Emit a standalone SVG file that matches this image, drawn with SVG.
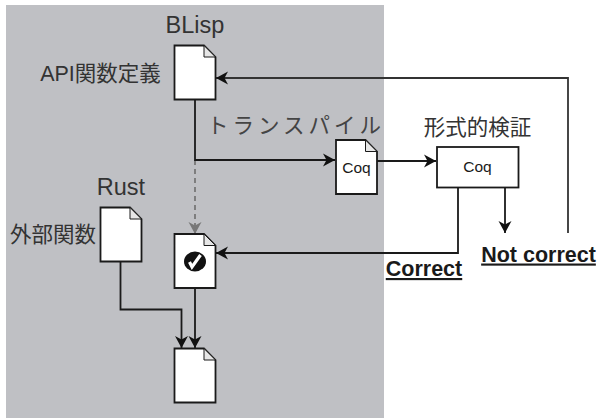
<svg xmlns="http://www.w3.org/2000/svg" width="598" height="418" viewBox="0 0 598 418">
<style>
text{font-family:"Liberation Sans","Noto Sans CJK JP",sans-serif;fill:#333}
.t{font-size:23.500px;text-anchor:middle}
.j{font-size:21.500px;text-anchor:middle}
.b{font-size:21.500px;font-weight:bold;text-decoration:underline;fill:#1a1a1a;text-anchor:middle}
.s{font-size:15.500px;text-anchor:middle;fill:#1a1a1a}
.d{fill:#fff;stroke:#1a1a1a;stroke-width:1.8}
.f{fill:#e6e6e6;stroke:#1a1a1a;stroke-width:1}
.c{fill:none;stroke:#1a1a1a;stroke-width:1.8}
</style>
<defs>
<marker id="a" markerUnits="userSpaceOnUse" markerWidth="13" markerHeight="14" refX="12" refY="7" orient="auto"><path d="M0 0.500L12 7L0 13.500L3.500 7Z" fill="#111"/></marker>
<marker id="g" markerUnits="userSpaceOnUse" markerWidth="13" markerHeight="14" refX="12" refY="7" orient="auto"><path d="M0 0.500L12 7L0 13.500L3.500 7Z" fill="#777"/></marker>
<g id="doc"><path class="d" d="M0 0H29.500L41 11.500V54H0Z"/><path class="f" d="M29.500 0V11.500H41Z"/></g>
</defs>
<rect id="bg" x="6" y="5" width="378" height="413" fill="#bfc0c4"/>
<g id="connectors">
<path d="M195 160V234" fill="none" stroke="#777" stroke-width="1.800" stroke-dasharray="5 4" marker-end="url(#g)"/>
<path class="c" d="M195 100V160H335" marker-end="url(#a)"/>
<path class="c" d="M377 161H436" marker-end="url(#a)"/>
<path class="c" d="M458 187V253H216" marker-end="url(#a)"/>
<path class="c" d="M505 187V233" marker-end="url(#a)"/>
<path d="M568 233V78H216" fill="none" stroke="#333" stroke-width="1.800" marker-end="url(#a)"/>
<path class="c" d="M120.500 261V309.500H181.500V348" marker-end="url(#a)"/>
<path class="c" d="M195 288V348" marker-end="url(#a)"/>
</g>
<g id="blisp"><use href="#doc" x="174.500" y="45.500"/><text class="t" x="195" y="33">BLisp</text><text class="j" x="100.500" y="81">API関数定義</text></g>
<g id="transpile"><text class="j" x="296" y="133" style="letter-spacing:4px;fill:#444">トランスパイル</text></g>
<g id="coq-doc"><use href="#doc" x="336" y="140"/><text class="s" x="356.500" y="173">Coq</text></g>
<g id="verify"><rect x="437" y="147" width="81.500" height="40.500" fill="#fff" stroke="#1a1a1a" stroke-width="1.800"/><text class="s" x="477.500" y="172">Coq</text><text class="j" x="477.500" y="135">形式的検証</text></g>
<g id="rust"><use href="#doc" x="100.500" y="207.500"/><text class="t" x="121" y="195">Rust</text><text class="j" x="53" y="242">外部関数</text></g>
<g id="checked"><use href="#doc" x="174.500" y="234"/><ellipse cx="195" cy="261.500" rx="11" ry="10" fill="#111"/><path d="M189.500 262L192 267L200.500 255" fill="none" stroke="#fff" stroke-width="3.200"/></g>
<g id="output"><use href="#doc" x="174.500" y="348.500"/></g>
<text class="b" x="424" y="276">Correct</text>
<text class="b" x="538.500" y="261.500">Not correct</text>
</svg>
